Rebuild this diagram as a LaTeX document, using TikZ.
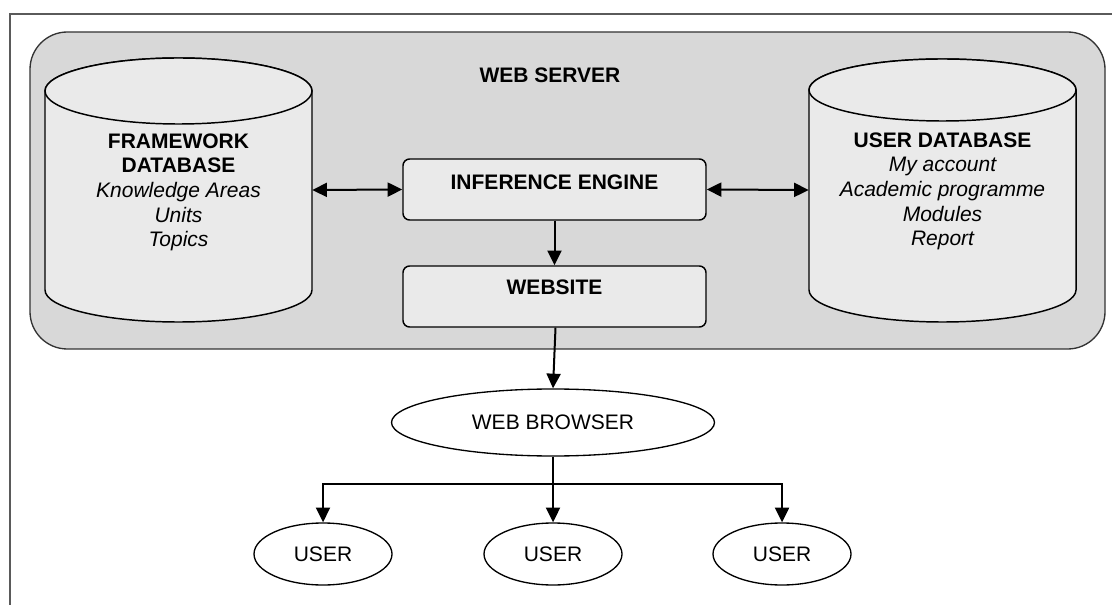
\documentclass[tikz,border=0pt]{standalone}
\usepackage{fontspec}
\setmainfont{Liberation Sans}
\usetikzlibrary{arrows.meta,shapes.geometric}
\definecolor{serverfill}{HTML}{D8D8D8}
\definecolor{boxfill}{HTML}{EAEAEA}
\definecolor{framegray}{HTML}{5A5A5A}
\tikzset{
  every node/.style={font=\fontsize{15.75}{18.4}\selectfont, inner sep=0pt},
  frameline/.style={draw=framegray, line width=1pt},
  serverbox/.style={rectangle, draw=black!80, line width=1pt, fill=serverfill,
    rounded corners=28pt, minimum width=806.25pt, minimum height=237.75pt},
  procbox/.style={rectangle, draw=black, line width=1.1pt, fill=boxfill,
    rounded corners=5pt, minimum width=227.25pt, minimum height=45.75pt},
  cylarea/.style={rectangle, minimum width=200.25pt, minimum height=198pt},
  cylbody/.style={draw=black, line width=1.1pt, fill=boxfill},
  cyltext/.style={align=center, anchor=north},
  heading/.style={font=\fontsize{15.75}{18.4}\selectfont\bfseries},
  bigoval/.style={ellipse, draw=black, line width=1pt, fill=white,
    minimum width=242.25pt, minimum height=50.25pt},
  useroval/.style={ellipse, draw=black, line width=1pt, fill=white,
    minimum width=103.5pt, minimum height=46.5pt},
  link/.style={draw=black, line width=1.5pt},
  arrow/.style={link, -{Triangle[length=11pt,width=10.5pt]}},
  twoway/.style={link, {Triangle[length=11pt,width=10.5pt]}-{Triangle[length=11pt,width=10.5pt]}}
}
\begin{document}
\begin{tikzpicture}[x=0.75pt,y=-0.75pt]
  \useasboundingbox (0,0) rectangle (1112,605);

  % outer frame (continues past the page edge)
  \draw[frameline] (10,640) -- (10,14) -- (1150,14);

  % web server container
  \node[serverbox] (server) at (567.5,190.5) {};
  \node[heading] (servertitle) at (550,75) {WEB SERVER};

  % framework database cylinder
  \node[cylarea] (fwdb) at (178.5,190) {};
  \path[cylbody] (45,91) -- (45,290)
     arc[start angle=180, end angle=0, x radius=133.5, y radius=32]
     -- (312,91)
     arc[start angle=0, end angle=-180, x radius=133.5, y radius=33] -- cycle;
  \path[cylbody] (178.5,91) ellipse[x radius=133.5, y radius=33];
  \node[cyltext] (fwdbtext) at (178.5,133.5)
    {\bfseries FRAMEWORK\\\bfseries DATABASE\\\itshape Knowledge Areas\\\itshape Units\\\itshape Topics};

  % user database cylinder
  \node[cylarea] (usrdb) at (942.5,190) {};
  \path[cylbody] (809,90) -- (809,290)
     arc[start angle=180, end angle=0, x radius=133.5, y radius=32]
     -- (1076,90)
     arc[start angle=0, end angle=-180, x radius=133.5, y radius=31] -- cycle;
  \path[cylbody] (942.5,90) ellipse[x radius=133.5, y radius=31];
  \node[cyltext] (usrdbtext) at (942.5,132.5)
    {\bfseries USER DATABASE\\\itshape My account\\\itshape Academic programme\\\itshape Modules\\\itshape Report};

  % processing boxes
  \node[procbox] (engine) at (554.5,189.5) {};
  \node[heading] (enginetext) at (554.5,182) {INFERENCE ENGINE};
  \node[procbox] (website) at (554.5,296.5) {};
  \node[heading] (websitetext) at (554.5,287) {WEBSITE};

  % client side
  \node[bigoval] (browser) at (553,422.5) {WEB BROWSER};
  \node[useroval] (user1) at (323,554) {USER};
  \node[useroval] (user2) at (553,554) {USER};
  \node[useroval] (user3) at (782,554) {USER};

  % connectors
  \draw[twoway] (fwdb.east) -- (engine.west);
  \draw[twoway] (engine.east) -- (usrdb.west);
  \draw[arrow] (engine.south) -- (website.north);
  \draw[arrow] ([xshift=0.75pt]website.south) -- (browser.north);
  \draw[link] (browser.south) -- (553,484) coordinate (split);
  \draw[arrow] (split) -| (user1.north);
  \draw[arrow] (split) -- (user2.north);
  \draw[arrow] (split) -| (user3.north);
\end{tikzpicture}
\end{document}
